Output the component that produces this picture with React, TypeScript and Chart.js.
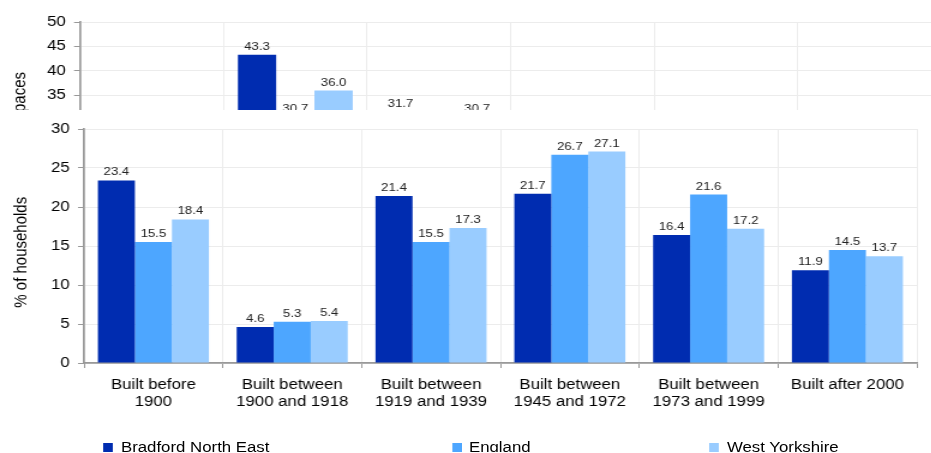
import React, { useEffect, useRef } from 'react';
import { Chart, registerables } from 'chart.js';

Chart.register(...registerables);

const FONT = '"Liberation Sans", Arial, Helvetica, sans-serif';

// ---- Main chart data ----
const categories: (string | string[])[] = [
  ['Built before', '1900'],
  ['Built between', '1900 and 1918'],
  ['Built between', '1919 and 1939'],
  ['Built between', '1945 and 1972'],
  ['Built between', '1973 and 1999'],
  'Built after 2000',
];
const seriesNames = ['Bradford North East', 'England', 'West Yorkshire'];
const bradfordNE = [23.4, 4.6, 21.4, 21.7, 16.4, 11.9];
const england = [15.5, 5.3, 15.5, 26.7, 21.6, 14.5];
const westYorkshire = [18.4, 5.4, 17.3, 27.1, 17.2, 13.7];
const yTitle = '% of households';
const yMin = 0;
const yMax = 30;
const yStep = 5;

// ---- Cropped upper chart (only its top strip is visible) ----
const upperCategories = ['1', '2', '3', '4', '5', '6'];
const upperBradfordNE = [12.5, 43.3, 31.7, 9.2, 2.4, 0.9];
const upperEngland = [12.0, 30.7, 27.8, 17.5, 7.9, 4.1];
const upperWestYorkshire = [11.6, 36.0, 30.7, 15.0, 4.8, 1.9];
const upperYTitle = 'No. of parking spaces';
const upperYMin = 0;
const upperYMax = 50;

const colors = ['#002CB0', '#4DA6FF', '#99CCFF'];

const valueLabels = {
  id: 'valueLabels',
  afterDatasetsDraw(chart: any) {
    const { ctx } = chart;
    ctx.save();
    ctx.font = `11px ${FONT}`;
    ctx.fillStyle = '#222';
    ctx.textAlign = 'center';
    ctx.textBaseline = 'alphabetic';
    chart.data.datasets.forEach((ds: any, i: number) => {
      chart.getDatasetMeta(i).data.forEach((el: any, j: number) => {
        ctx.fillText(Number(ds.data[j]).toFixed(1), el.x, el.y - 5);
      });
    });
    ctx.restore();
  },
};

function makeDatasets(a: number[], b: number[], c: number[]) {
  return [a, b, c].map((d, i) => ({
    label: seriesNames[i],
    data: d,
    backgroundColor: colors[i],
    borderWidth: 0,
    barPercentage: 1,
    categoryPercentage: 0.8,
  }));
}

export default function App() {
  const mainRef = useRef<HTMLCanvasElement | null>(null);
  const topRef = useRef<HTMLCanvasElement | null>(null);

  useEffect(() => {
    document.body.style.overflow = 'hidden';
    Chart.defaults.font.family = FONT;

    const top = new Chart(topRef.current as HTMLCanvasElement, {
      type: 'bar',
      data: {
        labels: upperCategories,
        datasets: makeDatasets(upperBradfordNE, upperEngland, upperWestYorkshire) as any,
      },
      options: {
        responsive: false,
        animation: false,
        layout: { padding: { top: 22, right: 15.8, left: 0, bottom: 0 } },
        plugins: { legend: { display: false }, tooltip: { enabled: false } },
        scales: {
          x: {
            grid: { color: '#ececec', tickColor: '#999', tickLength: 5, offset: true },
            border: { color: '#999', width: 1.7 },
            ticks: { display: false },
            afterFit: (s: any) => { s.height = 33; },
          },
          y: {
            min: upperYMin,
            max: upperYMax,
            ticks: { stepSize: 5, padding: 7, font: { size: 14 }, color: '#000' },
            grid: { color: '#ececec', tickColor: '#999', tickLength: 5 },
            border: { color: '#999', width: 1.7 },
            title: {
              display: true,
              text: upperYTitle,
              color: '#000',
              font: { size: 15 },
              padding: { top: 8.3, bottom: 0 },
            },
            afterFit: (s: any) => { s.width = 66.7; },
          },
        },
      } as any,
      plugins: [valueLabels],
    });

    const main = new Chart(mainRef.current as HTMLCanvasElement, {
      type: 'bar',
      data: {
        labels: categories,
        datasets: makeDatasets(bradfordNE, england, westYorkshire) as any,
      },
      options: {
        responsive: false,
        animation: false,
        layout: { padding: { top: 19, right: 11, left: 0, bottom: 0 } },
        plugins: { legend: { display: false }, tooltip: { enabled: false } },
        scales: {
          x: {
            grid: { color: '#ececec', tickColor: '#999', tickLength: 5, offset: true },
            border: { color: '#999', width: 1.7 },
            ticks: {
              font: { size: 14, lineHeight: 17 / 14 },
              color: '#000',
              padding: 9,
              maxRotation: 0,
              autoSkip: false,
            },
            afterFit: (s: any) => { s.height = 47; },
          },
          y: {
            min: yMin,
            max: yMax,
            ticks: { stepSize: yStep, padding: 7, font: { size: 14 }, color: '#000' },
            grid: { color: '#ececec', tickColor: '#999', tickLength: 5 },
            border: { color: '#999', width: 1.7 },
            title: {
              display: true,
              text: yTitle + '   ',
              color: '#000',
              font: { size: 15 },
              padding: { top: 8.5, bottom: 0 },
            },
            afterFit: (s: any) => { s.width = 70; },
          },
        },
      } as any,
      plugins: [valueLabels],
    });

    return () => {
      top.destroy();
      main.destroy();
    };
  }, []);

  const legendItems = [
    { sq: 85.8, tx: 100.8 },
    { sq: 376.7, tx: 390.8 },
    { sq: 590.8, tx: 605.8 },
  ];

  return (
    <div>
      <div
        style={{
          position: 'absolute',
          left: 0,
          top: 110,
          width: 775,
          height: 342,
          overflow: 'hidden',
          transform: 'scaleX(1.2)',
          transformOrigin: '0 0',
        }}
      >
        <canvas ref={mainRef} width={775} height={300} style={{ display: 'block' }} />
        {seriesNames.map((name, i) => (
          <React.Fragment key={name}>
            <div
              style={{
                position: 'absolute',
                left: legendItems[i].sq,
                top: 333,
                width: 8.33,
                height: 10,
                background: colors[i],
              }}
            />
            <div
              style={{
                position: 'absolute',
                left: legendItems[i].tx,
                top: 329.5,
                fontFamily: FONT,
                fontSize: 14,
                lineHeight: '14px',
                color: '#000',
                whiteSpace: 'nowrap',
              }}
            >
              {name}
            </div>
          </React.Fragment>
        ))}
      </div>
      <div
        style={{
          position: 'absolute',
          left: 0,
          top: 0,
          width: 931,
          height: 110,
          overflow: 'hidden',
          background: '#fff',
        }}
      >
        <div style={{ width: 775, height: 300, transform: 'scaleX(1.2)', transformOrigin: '0 0' }}>
          <canvas ref={topRef} width={800} height={300} style={{ display: 'block' }} />
        </div>
      </div>
    </div>
  );
}
